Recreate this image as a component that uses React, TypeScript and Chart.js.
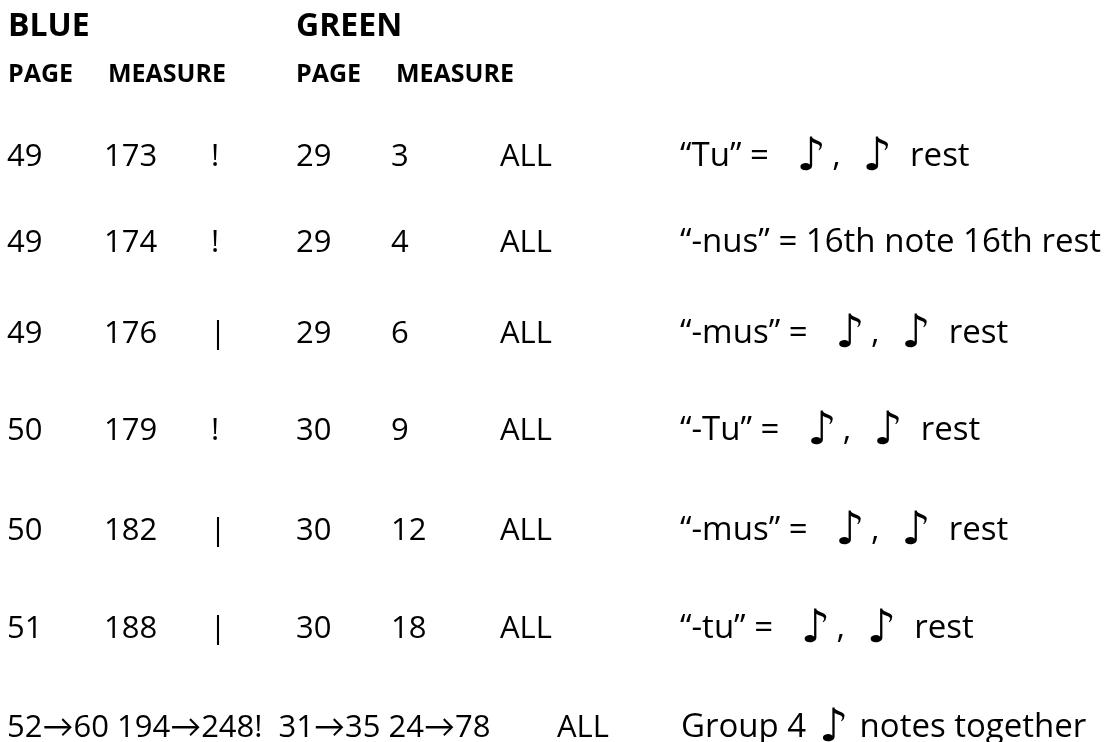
import React, { useEffect, useRef } from "react";
import { Chart, registerables } from "chart.js";

Chart.register(...registerables);

// ---- data ----
const bluePages = ["49", "49", "49", "50", "50", "51"];
const blueMeasures = ["173", "174", "176", "179", "182", "188"];
const marks = ["!", "!", "|", "!", "|", "|"];
const greenPages = ["29", "29", "29", "30", "30", "30"];
const greenMeasures = ["3", "4", "6", "9", "12", "18"];
const parts = ["ALL", "ALL", "ALL", "ALL", "ALL", "ALL"];
const syllables = ["\u201CTu\u201D", "\u201C-nus\u201D", "\u201C-mus\u201D", "\u201C-Tu\u201D", "\u201C-mus\u201D", "\u201C-tu\u201D"];
const values = ["NOTE_REST", "16th note 16th rest", "NOTE_REST", "NOTE_REST", "NOTE_REST", "NOTE_REST"];
const lastRow = ["52\u219260 194\u2192248!  31\u219235 24\u219278", "ALL", "Group 4", "notes together"];
const headerTop = ["BLUE", "GREEN"];
const headerSub = ["PAGE", "MEASURE", "PAGE", "MEASURE"];

// ---- layout ----
const W = 1108;
const H = 742;
const COL_X = [7, 104, 218, 296, 391, 500, 680];
const ROW_Y = [166, 252, 343, 440, 540, 638];
const LAST_Y = 737;
const LAST_X = [7, 557, 681];
const HEAD_TOP_X = [8, 296];
const HEAD_SUB_X = [8, 108, 296, 396];
const HEAD_TOP_Y = 36;
const HEAD_SUB_Y = 82;

const FONT = "'Open Sans', Lato, sans-serif";
const BODY = `31px ${FONT}`;
const DESC = `33px ${FONT}`;
const NOTE_FONT = "bold 46px 'DejaVu Sans'";
const NOTE = "\u266A";

type Seg = [string, string, number, number]; // text, font, dy, gap after

export default function App() {
  const ref = useRef<HTMLCanvasElement | null>(null);
  useEffect(() => {
    document.body.style.margin = "0";
    const canvas = ref.current;
    if (!canvas) return;

    const columns = [bluePages, blueMeasures, marks, greenPages, greenMeasures, parts, syllables];
    const datasets: any[] = columns.map((col, ci) => ({
      label: "c" + ci,
      data: col.map((_, ri) => ({ x: COL_X[ci], y: ROW_Y[ri] })),
      pointRadius: 0,
      texts: col,
      kind: "cell",
      col: ci,
    }));
    datasets.push({
      label: "last",
      data: LAST_X.map((x) => ({ x, y: LAST_Y })),
      pointRadius: 0,
      texts: lastRow,
      kind: "last",
    });
    datasets.push({
      label: "headTop",
      data: HEAD_TOP_X.map((x) => ({ x, y: HEAD_TOP_Y })),
      pointRadius: 0,
      texts: headerTop,
      kind: "headTop",
    });
    datasets.push({
      label: "headSub",
      data: HEAD_SUB_X.map((x) => ({ x, y: HEAD_SUB_Y })),
      pointRadius: 0,
      texts: headerSub,
      kind: "headSub",
    });

    const textPlugin = {
      id: "tableText",
      afterDatasetsDraw(chart: any) {
        const ctx = chart.ctx as CanvasRenderingContext2D;
        ctx.save();
        ctx.fillStyle = "#000";
        ctx.textBaseline = "alphabetic";
        ctx.textAlign = "left";
        const drawSeq = (x: number, y: number, segs: Seg[]) => {
          let cx = x;
          for (const [t, f, dy, gap] of segs) {
            ctx.font = f;
            ctx.fillText(t, cx, y + dy);
            cx += ctx.measureText(t).width + gap;
          }
        };
        chart.data.datasets.forEach((ds: any, di: number) => {
          const meta = chart.getDatasetMeta(di);
          meta.data.forEach((el: any, i: number) => {
            const x = el.x;
            const y = el.y;
            const t = ds.texts[i];
            if (ds.kind === "headTop") {
              ctx.font = `bold 32px ${FONT}`;
              ctx.fillText(t, x, y);
            } else if (ds.kind === "headSub") {
              ctx.font = `bold 25px ${FONT}`;
              ctx.fillText(t, x, y);
            } else if (ds.kind === "cell") {
              if (ds.col === 6) {
                const v = values[i];
                if (v === "NOTE_REST") {
                  drawSeq(x, y, [
                    [t + " =", DESC, 0, 28],
                    [NOTE, NOTE_FONT, 4, 6],
                    [",", DESC, 0, 22],
                    [NOTE, NOTE_FONT, 4, 18],
                    ["rest", DESC, 0, 0],
                  ]);
                } else {
                  drawSeq(x, y, [[t + " = " + v, DESC, 0, 0]]);
                }
              } else if (ds.col === 2) {
                ctx.font = BODY;
                ctx.textAlign = "center";
                ctx.fillText(t, t === "!" ? x - 3 : x, y);
                ctx.textAlign = "left";
              } else {
                ctx.font = BODY;
                ctx.fillText(t, x, y);
              }
            } else if (ds.kind === "last") {
              if (i === 2) {
                drawSeq(x, y, [
                  [t, DESC, 0, 13],
                  [NOTE, NOTE_FONT, 4, 11],
                  [lastRow[3], DESC, 0, 0],
                ]);
              } else if (i < 2) {
                ctx.font = BODY;
                ctx.fillText(t, x, y);
              }
            }
          });
        });
        ctx.restore();
      },
    };

    const chart = new Chart(canvas, {
      type: "scatter",
      data: { datasets },
      options: {
        animation: false,
        responsive: false,
        layout: { padding: 0 },
        plugins: { legend: { display: false }, tooltip: { enabled: false } },
        scales: {
          x: { type: "linear", min: 0, max: W, display: false },
          y: { type: "linear", min: 0, max: H, reverse: true, display: false },
        },
      },
      plugins: [textPlugin],
    } as any);
    return () => chart.destroy();
  }, []);
  return (
    <div style={{ width: W, height: H, background: "#fff" }}>
      <canvas ref={ref} width={W} height={H} style={{ display: "block" }} />
    </div>
  );
}
